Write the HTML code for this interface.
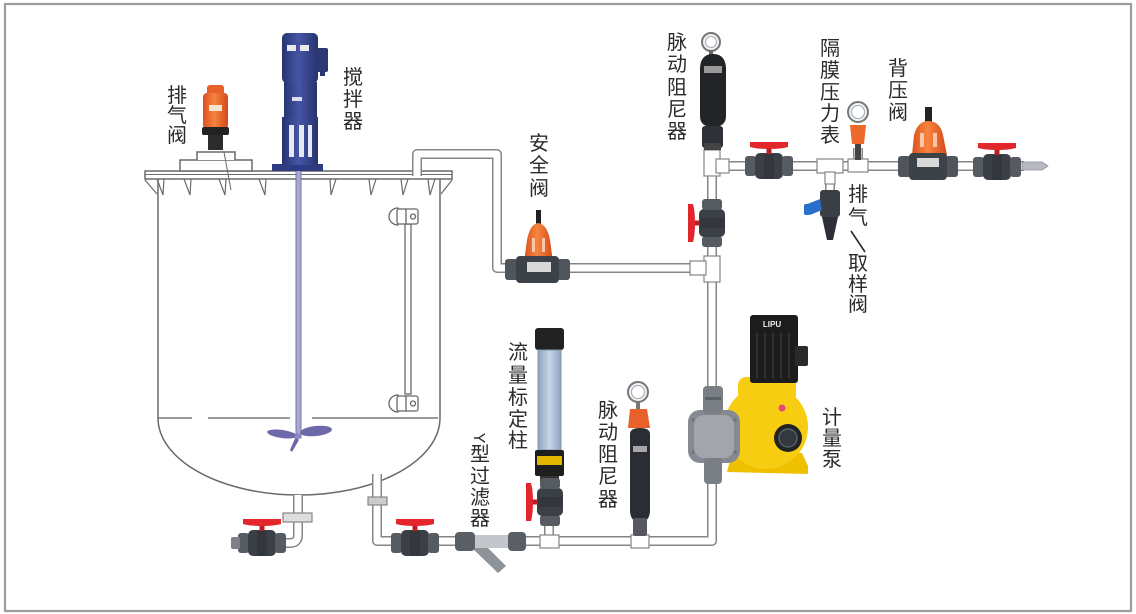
<!DOCTYPE html>
<html><head><meta charset="utf-8">
<style>
html,body{margin:0;padding:0;background:#fff;}
svg{display:block;}
text.l{font-family:"Liberation Sans","Noto Sans CJK SC",sans-serif;font-size:20px;fill:#2b2b2b;text-anchor:middle;}
</style></head><body>
<svg width="1136" height="614" viewBox="0 0 1136 614" xmlns="http://www.w3.org/2000/svg">
<defs>
 <g id="bv">
  <rect x="-24" y="-10" width="11" height="20" rx="3" fill="#565a61"/>
  <rect x="-14" y="-13" width="28" height="26" rx="5" fill="#3b3f46"/>
  <rect x="13" y="-10" width="11" height="20" rx="3" fill="#565a61"/>
  <rect x="-5" y="-12" width="10" height="25" fill="#33363c"/>
  <rect x="-2.5" y="-19" width="5" height="7" fill="#b81f24"/>
  <path d="M-19 -24 H19 V-19 Q12 -17 0 -17 Q-12 -17 -19 -19 Z" fill="#e3262c"/>
 </g>
 <linearGradient id="tube" x1="0" x2="1" y1="0" y2="0">
  <stop offset="0" stop-color="#8fa3c0"/><stop offset="0.5" stop-color="#c9d6e6"/><stop offset="1" stop-color="#8fa3c0"/>
 </linearGradient>
 <linearGradient id="blu" x1="0" x2="1" y1="0" y2="0">
  <stop offset="0" stop-color="#26346f"/><stop offset="0.45" stop-color="#4656a6"/><stop offset="1" stop-color="#27336e"/>
 </linearGradient>
 <linearGradient id="org" x1="0" x2="1" y1="0" y2="0">
  <stop offset="0" stop-color="#d9511f"/><stop offset="0.45" stop-color="#f7843f"/><stop offset="1" stop-color="#d44a1b"/>
 </linearGradient>
</defs>
<rect width="1136" height="614" fill="#fff"/>
<rect x="5" y="4" width="1126" height="607" fill="none" stroke="#9c9c9c" stroke-width="2.2"/>

<!-- TANK -->
<g stroke="#6a6a6a" stroke-width="1.5" fill="none">
 <rect x="145" y="171" width="307" height="8" fill="#fff"/>
 <line x1="145" y1="174.5" x2="452" y2="174.5" stroke-width="1"/>
 <line x1="158" y1="179" x2="158" y2="418"/>
 <line x1="440" y1="179" x2="440" y2="418"/>
 <path d="M158 418 A141 77 0 0 0 440 418"/>
 <path d="M158 418 H192 M208 418 H290 M312 418 H438" stroke="#7a7a7a"/>
 <path d="M145 180 L157 194 M452 180 L441 194" stroke-width="1.2"/>
 <g stroke-width="1.2">
  <path d="M157 179 L163 195 L164 179"/>
  <path d="M184 179 L190 195 L191 179"/>
  <path d="M219 179 L225 195 L226 179"/>
  <path d="M259 179 L265 195 L266 179"/>
  <path d="M330 179 L331 195 L336 179"/>
  <path d="M369 179 L371 195 L376 179"/>
  <path d="M401 179 L403 195 L408 179"/>
  <path d="M428 179 L430 195 L435 179"/>
 </g>
 <!-- exhaust valve mount -->
 <rect x="180" y="160" width="72" height="11" fill="#fff"/>
 <path d="M197 160 V152 H235 V160" fill="#fff"/>
 <line x1="224" y1="152" x2="231" y2="190" stroke-width="1"/>
</g>

<!-- sight glass -->
<g stroke="#666" stroke-width="1.3" fill="#fff">
 <rect x="405" y="224" width="6" height="170"/>
 <path d="M398 208 A9 8.5 0 0 0 398 225 Z"/>
 <rect x="397" y="209" width="21" height="15" rx="2"/>
 <line x1="406" y1="209" x2="406" y2="224"/>
 <circle cx="413" cy="216.5" r="2.5"/>
 <path d="M398 395 A9 8.5 0 0 0 398 412 Z"/>
 <rect x="397" y="396" width="21" height="15" rx="2"/>
 <line x1="406" y1="396" x2="406" y2="411"/>
 <circle cx="413" cy="403.5" r="2.5"/>
</g>

<!-- agitator shaft & impeller -->
<rect x="296" y="170" width="5" height="268" fill="#aaa8d2" stroke="#7773aa" stroke-width="1"/>
<g fill="#6d68a8">
 <ellipse cx="316" cy="431" rx="16" ry="5" transform="rotate(-6 316 431)"/>
 <ellipse cx="282" cy="434" rx="15" ry="4" transform="rotate(8 282 434)"/>
 <path d="M296 436 L299 440 L292 452 L290 450 Z"/>
 <circle cx="298" cy="436" r="3" fill="#8d89c4"/>
</g>

<!-- PIPES -->
<g fill="none" stroke-linejoin="round">
 <path stroke="#858585" stroke-width="10" d="M417 176 V154 H497 V268 H510 M564 268 H712 M712 146 V541 H520 M712 166 H1024 M377 474 V541 H460 M298 495 V535 Q298 543 290 543 H283 M830 166 V192 M858 166 V148 M549 541 V515 M640 541 V515 M440 541 H520"/>
 <path stroke="#fff" stroke-width="7" d="M417 176 V154 H497 V268 H510 M564 268 H712 M712 146 V541 H520 M712 166 H1024 M377 474 V541 H460 M298 495 V535 Q298 543 290 543 H283 M830 166 V192 M858 166 V148 M549 541 V515 M640 541 V515 M440 541 H520"/>
</g>

<!-- fittings -->
<g fill="#fff" stroke="#858585" stroke-width="1.2">
 <rect x="704" y="150" width="16" height="26"/>
 <rect x="716" y="159" width="13" height="14"/>
 <rect x="704" y="256" width="16" height="26"/>
 <rect x="690" y="261" width="16" height="14"/>
 <rect x="817" y="159" width="26" height="14"/>
 <rect x="825" y="172" width="10" height="12"/>
 <rect x="848" y="159" width="20" height="13"/>
 <rect x="540" y="535" width="19" height="13"/>
 <rect x="631" y="535" width="18" height="13"/>
 <rect x="283" y="513" width="29" height="9" fill="#ddd"/>
 <rect x="368" y="497" width="19" height="8" fill="#ccc"/>
</g>

<!-- pipe tip -->
<path d="M1022 162 H1042 L1048 166 L1042 170 H1022 Z" fill="#b7bbc1" stroke="#8d9096" stroke-width="0.8"/>

<!-- AGITATOR MOTOR -->
<rect x="272" y="164" width="51" height="7" fill="#2f3c84"/>
<rect x="282" y="117" width="36" height="48" fill="url(#blu)"/>
<rect x="289" y="125" width="5" height="32" fill="#e6e8f2"/>
<rect x="299" y="125" width="5" height="32" fill="#e6e8f2"/>
<rect x="308" y="125" width="4" height="32" fill="#e6e8f2"/>
<rect x="284" y="82" width="33" height="36" fill="url(#blu)"/>
<rect x="292" y="97" width="10" height="4" fill="#dde"/>
<rect x="282" y="33" width="36" height="50" rx="5" fill="url(#blu)"/>
<rect x="287" y="45" width="9" height="6" fill="#e8e8f0"/>
<rect x="300" y="45" width="9" height="6" fill="#e8e8f0"/>
<rect x="317" y="48" width="11" height="24" rx="2" fill="#2b3673"/>
<rect x="320" y="70" width="5" height="6" fill="#2b3673"/>

<!-- EXHAUST VALVE (tank top) -->
<rect x="207" y="85" width="17" height="12" rx="3" fill="#e8602a"/>
<rect x="203" y="93" width="25" height="36" rx="4" fill="url(#org)"/>
<rect x="209" y="105" width="13" height="6" fill="#f3e6d0"/>
<rect x="202" y="127" width="27" height="8" rx="2" fill="#222"/>
<rect x="208" y="135" width="15" height="15" fill="#2c2c2c"/>

<!-- SAFETY VALVE -->
<rect x="536" y="210" width="5" height="18" fill="#222"/>
<path d="M524 262 L527 240 Q530 224 538 223 Q547 224 550 240 L553 262 Z" fill="url(#org)"/>
<rect x="532" y="238" width="3" height="14" fill="#f8c6a6"/>
<rect x="542" y="238" width="3" height="14" fill="#f8c6a6"/>
<rect x="505" y="259" width="13" height="21" rx="3" fill="#50545b"/>
<rect x="557" y="259" width="13" height="21" rx="3" fill="#50545b"/>
<rect x="516" y="256" width="43" height="27" rx="4" fill="#3d4148"/>
<rect x="527" y="262" width="24" height="10" fill="#d8d8d8"/>

<!-- TOP PULSATION DAMPENER -->
<circle cx="711" cy="42" r="9" fill="#f1f1f1" stroke="#777" stroke-width="2"/>
<circle cx="711" cy="42" r="5.5" fill="#fff" stroke="#aab" stroke-width="1"/>
<rect x="709" y="50" width="4" height="6" fill="#666"/>
<path d="M700 72 Q699 54 713 54 Q727 54 726 72 V116 Q726 127 713 127 Q700 127 700 116 Z" fill="#232428"/>
<rect x="704" y="66" width="18" height="7" fill="#9a9a9a"/>
<rect x="702" y="126" width="21" height="22" rx="3" fill="#2e3137"/>
<rect x="704" y="143" width="17" height="7" fill="#444"/>

<!-- vertical ball valve on main pipe -->
<use href="#bv" transform="translate(712 223) rotate(-90)"/>

<!-- top line ball valves -->
<use href="#bv" transform="translate(769 166)"/>
<use href="#bv" transform="translate(997 167)"/>

<!-- sampling valve -->
<rect x="820" y="190" width="20" height="27" rx="3" fill="#3a3e45"/>
<path d="M822 217 H838 L833 240 H827 Z" fill="#2c2f35"/>
<path d="M805 205 L820 199 L822 210 L810 215 Z" fill="#2a6fc9"/>
<rect x="804" y="204" width="6" height="11" rx="2" fill="#2a6fc9"/>

<!-- pressure gauge -->
<rect x="855" y="143" width="6" height="17" fill="#444"/>
<path d="M850 125 H866 L864 144 H852 Z" fill="#ee6a2c"/>
<circle cx="858" cy="112" r="10" fill="#f1f1f1" stroke="#777" stroke-width="2"/>
<circle cx="858" cy="112" r="6.5" fill="#fff" stroke="#9ab" stroke-width="1"/>

<!-- BACK PRESSURE VALVE -->
<rect x="925" y="107" width="7" height="17" fill="#222"/>
<path d="M912 155 L914 135 Q918 121 928 121 Q940 121 943 135 L947 155 Z" fill="url(#org)"/>
<rect x="920" y="133" width="4" height="14" fill="#f8c6a6"/>
<rect x="933" y="133" width="4" height="14" fill="#f8c6a6"/>
<rect x="898" y="156" width="13" height="21" rx="3" fill="#50545b"/>
<rect x="945" y="156" width="13" height="21" rx="3" fill="#50545b"/>
<rect x="909" y="153" width="38" height="27" rx="4" fill="#3d4148"/>
<rect x="917" y="158" width="22" height="9" fill="#d8d8d8"/>

<!-- METERING PUMP -->
<path d="M727 472 L732 453 H802 L808 466 V474 Z" fill="#efc000"/>
<ellipse cx="766" cy="427" rx="42" ry="42" fill="#f7cd12"/>
<rect x="738" y="377" width="58" height="26" rx="8" fill="#f7cd12"/>
<rect x="750" y="315" width="48" height="68" rx="3" fill="#1c1c1c"/>
<g stroke="#383838" stroke-width="1.5">
 <line x1="757" y1="333" x2="757" y2="378"/><line x1="765" y1="333" x2="765" y2="378"/>
 <line x1="773" y1="333" x2="773" y2="378"/><line x1="781" y1="333" x2="781" y2="378"/>
 <line x1="789" y1="333" x2="789" y2="378"/>
</g>
<text x="772" y="327" style="font-family:'Liberation Sans',sans-serif;font-size:8px;font-weight:bold;fill:#eee;" text-anchor="middle">LIPU</text>
<rect x="795" y="346" width="13" height="20" rx="2" fill="#2a2a2a"/>
<circle cx="714" cy="392" r="3.5" fill="#e8477a"/>
<circle cx="782" cy="408" r="3.5" fill="#e8477a"/>
<rect x="688" y="410" width="52" height="53" rx="12" fill="#868991"/>
<rect x="694" y="415" width="40" height="43" rx="10" fill="#a2a5ab"/>
<g fill="#6e7178"><circle cx="693" cy="420" r="1.6"/><circle cx="693" cy="452" r="1.6"/><circle cx="735" cy="420" r="1.6"/><circle cx="735" cy="452" r="1.6"/></g>
<rect x="703" y="386" width="20" height="28" rx="4" fill="#7a7e85"/>
<rect x="705" y="397" width="16" height="3" fill="#5c6067"/>
<rect x="704" y="458" width="18" height="26" rx="4" fill="#7a7e85"/>
<circle cx="788" cy="438" r="14" fill="#232323"/>
<circle cx="788" cy="438" r="9" fill="#34393f" stroke="#5b6a7a" stroke-width="1.2"/>

<!-- FLOW CALIBRATION COLUMN -->
<rect x="535" y="328" width="29" height="22" rx="3" fill="#222"/>
<rect x="538" y="350" width="23" height="100" fill="url(#tube)" stroke="#8395ae" stroke-width="1"/>
<rect x="535" y="450" width="29" height="26" rx="2" fill="#1e1e1e"/>
<rect x="537" y="456" width="25" height="9" fill="#e3b500"/>
<rect x="540" y="476" width="19" height="6" fill="#333"/>
<use href="#bv" transform="translate(550 502) rotate(-90)"/>

<!-- LOWER PULSATION DAMPENER -->
<circle cx="638" cy="392" r="10" fill="#f1f1f1" stroke="#777" stroke-width="2"/>
<circle cx="638" cy="392" r="6.5" fill="#fff" stroke="#9ab" stroke-width="1"/>
<rect x="636" y="401" width="4" height="8" fill="#777"/>
<path d="M628 428 L630 409 H647 L650 428 Z" fill="#e8602a"/>
<path d="M630 434 Q630 428 640 428 Q650 428 650 434 V510 Q650 522 640 522 Q630 522 630 510 Z" fill="#2a2d33"/>
<rect x="633" y="446" width="14" height="6" fill="#a8a8a8"/>
<rect x="633" y="518" width="14" height="18" rx="2" fill="#55595f"/>

<!-- Y FILTER -->
<path d="M480 540 L506 566 L498 573 L472 548 Z" fill="#8e9299"/>
<rect x="474" y="535" width="36" height="13" fill="#c3c6cb"/>
<rect x="455" y="532" width="20" height="19" rx="4" fill="#5a5e65"/>
<rect x="508" y="532" width="18" height="19" rx="4" fill="#5a5e65"/>

<!-- bottom ball valves -->
<use href="#bv" transform="translate(415 543)"/>
<use href="#bv" transform="translate(262 543)"/>
<rect x="231" y="537" width="9" height="12" rx="2" fill="#7d8087"/>

<!-- LABELS -->
<text class="l" x="177" y="102">排</text><text class="l" x="177" y="122">气</text><text class="l" x="177" y="142">阀</text>
<text class="l" x="353" y="84">搅</text><text class="l" x="353" y="106">拌</text><text class="l" x="353" y="128">器</text>
<text class="l" x="539" y="150">安</text><text class="l" x="539" y="172">全</text><text class="l" x="539" y="195">阀</text>
<text class="l" x="677" y="49">脉</text><text class="l" x="677" y="71">动</text><text class="l" x="677" y="94">阻</text><text class="l" x="677" y="116">尼</text><text class="l" x="677" y="138">器</text>
<text class="l" x="830" y="55">隔</text><text class="l" x="830" y="77">膜</text><text class="l" x="830" y="99">压</text><text class="l" x="830" y="120">力</text><text class="l" x="830" y="142">表</text>
<text class="l" x="898" y="75">背</text><text class="l" x="898" y="97">压</text><text class="l" x="898" y="119">阀</text>
<text class="l" x="858" y="201">排</text><text class="l" x="858" y="224">气</text>
<line x1="851" y1="231" x2="865" y2="252" stroke="#2b2b2b" stroke-width="1.6"/>
<text class="l" x="858" y="270">取</text><text class="l" x="858" y="291">样</text><text class="l" x="858" y="311">阀</text>
<text class="l" x="518" y="359">流</text><text class="l" x="518" y="382">量</text><text class="l" x="518" y="404">标</text><text class="l" x="518" y="426">定</text><text class="l" x="518" y="447">柱</text>
<text class="l" x="608" y="417">脉</text><text class="l" x="608" y="439">动</text><text class="l" x="608" y="461">阻</text><text class="l" x="608" y="483">尼</text><text class="l" x="608" y="506">器</text>
<text class="l" x="0" y="0" transform="translate(474 438) rotate(90)" style="font-size:16px">Y</text>
<text class="l" x="480" y="461">型</text><text class="l" x="480" y="483">过</text><text class="l" x="480" y="504">滤</text><text class="l" x="480" y="525">器</text>
<text class="l" x="832" y="424">计</text><text class="l" x="832" y="445">量</text><text class="l" x="832" y="466">泵</text>
</svg>
</body></html>
